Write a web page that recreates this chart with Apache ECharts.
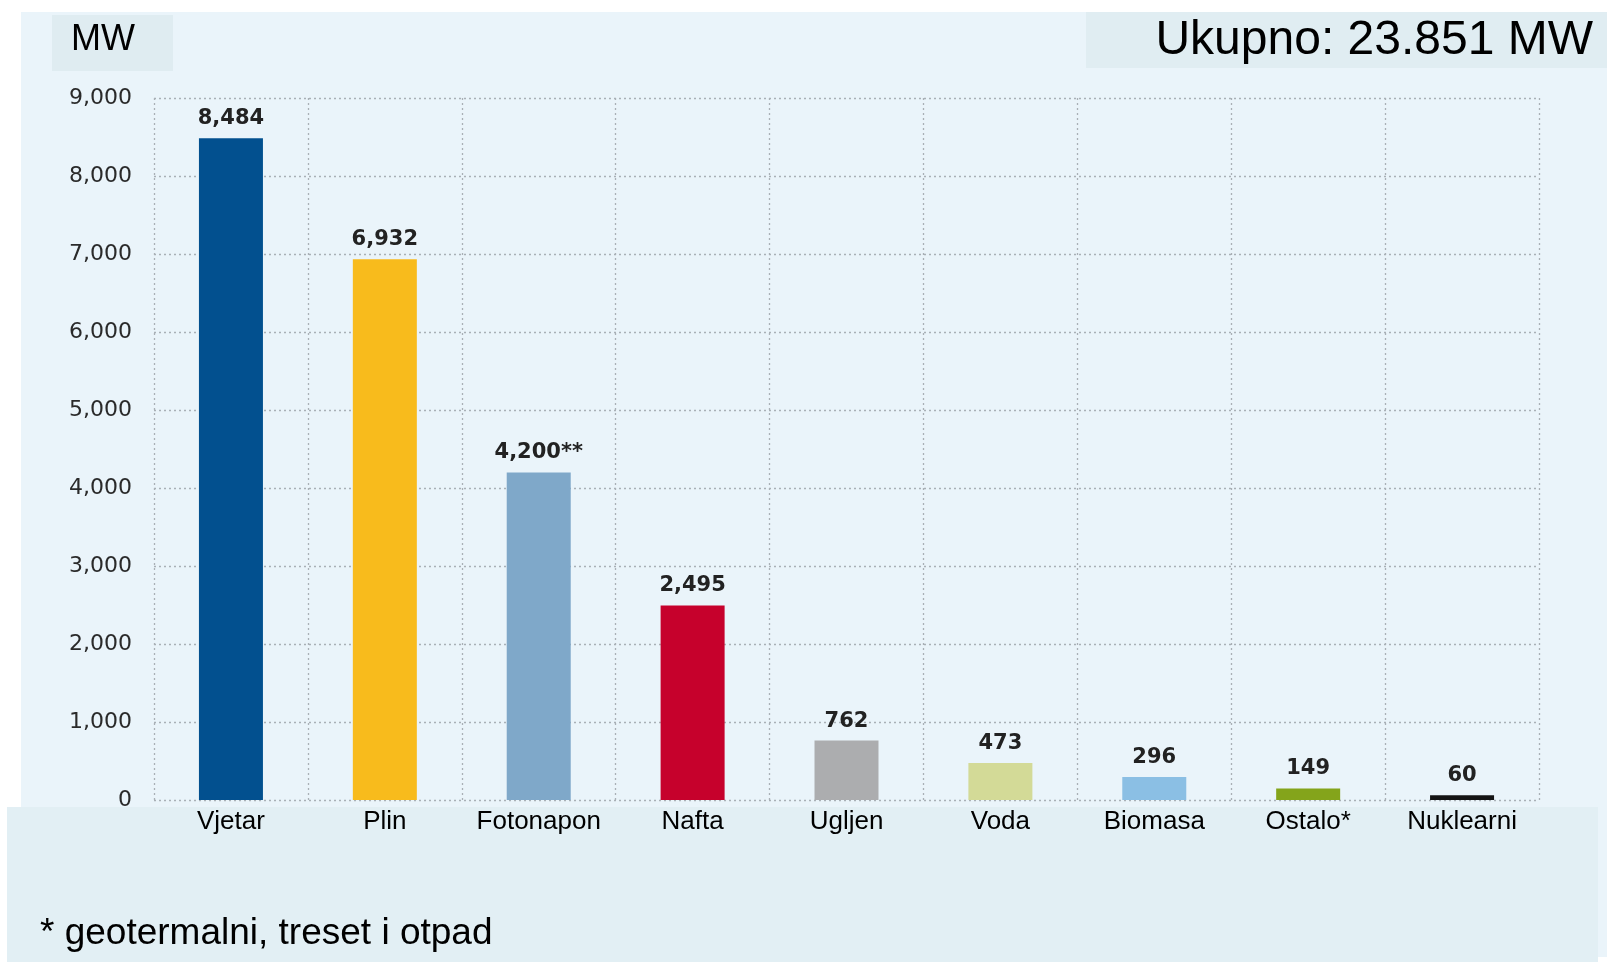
<!DOCTYPE html>
<html lang="hr">
<head>
    <meta charset="UTF-8">
    <script src="https://cdn.jsdelivr.net/npm/echarts@6/dist/echarts.min.js"></script>
    <title>MW</title>
</head>
<body style="margin:0;background:#ffffff">
    <div id="chart" style="width:1607px;height:969px;"></div>

    <script type="text/javascript">
        // podaci
        var categories = ['Vjetar', 'Plin', 'Fotonapon', 'Nafta', 'Ugljen', 'Voda', 'Biomasa', 'Ostalo*', 'Nuklearni'];
        var values = [8484, 6932, 4200, 2495, 762, 473, 296, 149, 60];
        var valueLabels = ['8,484', '6,932', '4,200**', '2,495', '762', '473', '296', '149', '60'];
        var barColors = ['#02508f', '#f8bb1c', '#7fa8c9', '#c6012c', '#acadaf', '#d3da97', '#8bbfe4', '#84a41b', '#141414'];
        var yTicks = [0, 1000, 2000, 3000, 4000, 5000, 6000, 7000, 8000, 9000];

        var chart = echarts.init(document.getElementById('chart'));

        var gridLine = { type: [2, 3], color: '#a9b0b6', width: 1.3 };

        var option = {
            backgroundColor: '#ffffff',
            animation: false,
            graphic: [
                { type: 'rect', z: -10, shape: { x: 21, y: 12, width: 1586, height: 945 }, style: { fill: '#eaf4fa' } },
                { type: 'rect', z: -9, shape: { x: 7, y: 807, width: 1591, height: 155 }, style: { fill: '#e2eff4' } },
                { type: 'rect', z: -9, shape: { x: 52, y: 15, width: 121, height: 56 }, style: { fill: '#dfecf1' } },
                { type: 'rect', z: -9, shape: { x: 1086, y: 12, width: 521, height: 56 }, style: { fill: '#e0edf2' } },
                { type: 'text', left: 71, top: 22, style: { text: 'MW', fill: '#000', font: '36px "Liberation Sans", Arial, sans-serif' } },
                { type: 'text', right: 14, top: 17, style: { text: 'Ukupno: 23.851 MW', fill: '#000', font: '48px "Liberation Sans", Arial, sans-serif' } },
                { type: 'text', left: 40, top: 915, style: { text: '* geotermalni, treset i otpad', fill: '#000', font: '37px "Liberation Sans", Arial, sans-serif' } }
            ],
            grid: { left: 154, right: 68, top: 98, bottom: 169 },
            xAxis: {
                type: 'category',
                data: categories,
                axisLine: { show: false },
                axisTick: { show: false },
                axisLabel: {
                    color: '#000',
                    fontSize: 26,
                    fontFamily: '"Liberation Sans", Arial, sans-serif',
                    margin: 9,
                    interval: 0
                },
                splitLine: { show: true, lineStyle: gridLine }
            },
            yAxis: {
                type: 'value',
                min: 0,
                max: 9000,
                interval: 1000,
                axisLine: { show: false },
                axisTick: { show: false },
                axisLabel: {
                    color: '#2a2a2a',
                    fontSize: 22,
                    fontFamily: '"DejaVu Sans", Verdana, sans-serif',
                    margin: 22,
                    formatter: function (v) {
                        return yTicks.indexOf(v) >= 0 ? v.toLocaleString('en-US') : '';
                    }
                },
                splitLine: { show: true, lineStyle: gridLine }
            },
            series: [{
                type: 'bar',
                barWidth: 64,
                data: values.map(function (v, i) {
                    return { value: v, itemStyle: { color: barColors[i] } };
                }),
                label: {
                    show: true,
                    position: 'top',
                    distance: 9,
                    color: '#222',
                    fontSize: 21,
                    fontWeight: 'bold',
                    fontFamily: '"DejaVu Sans", Verdana, sans-serif',
                    formatter: function (p) { return valueLabels[p.dataIndex]; }
                }
            }]
        };

        chart.setOption(option);
    </script>
</body>
</html>
